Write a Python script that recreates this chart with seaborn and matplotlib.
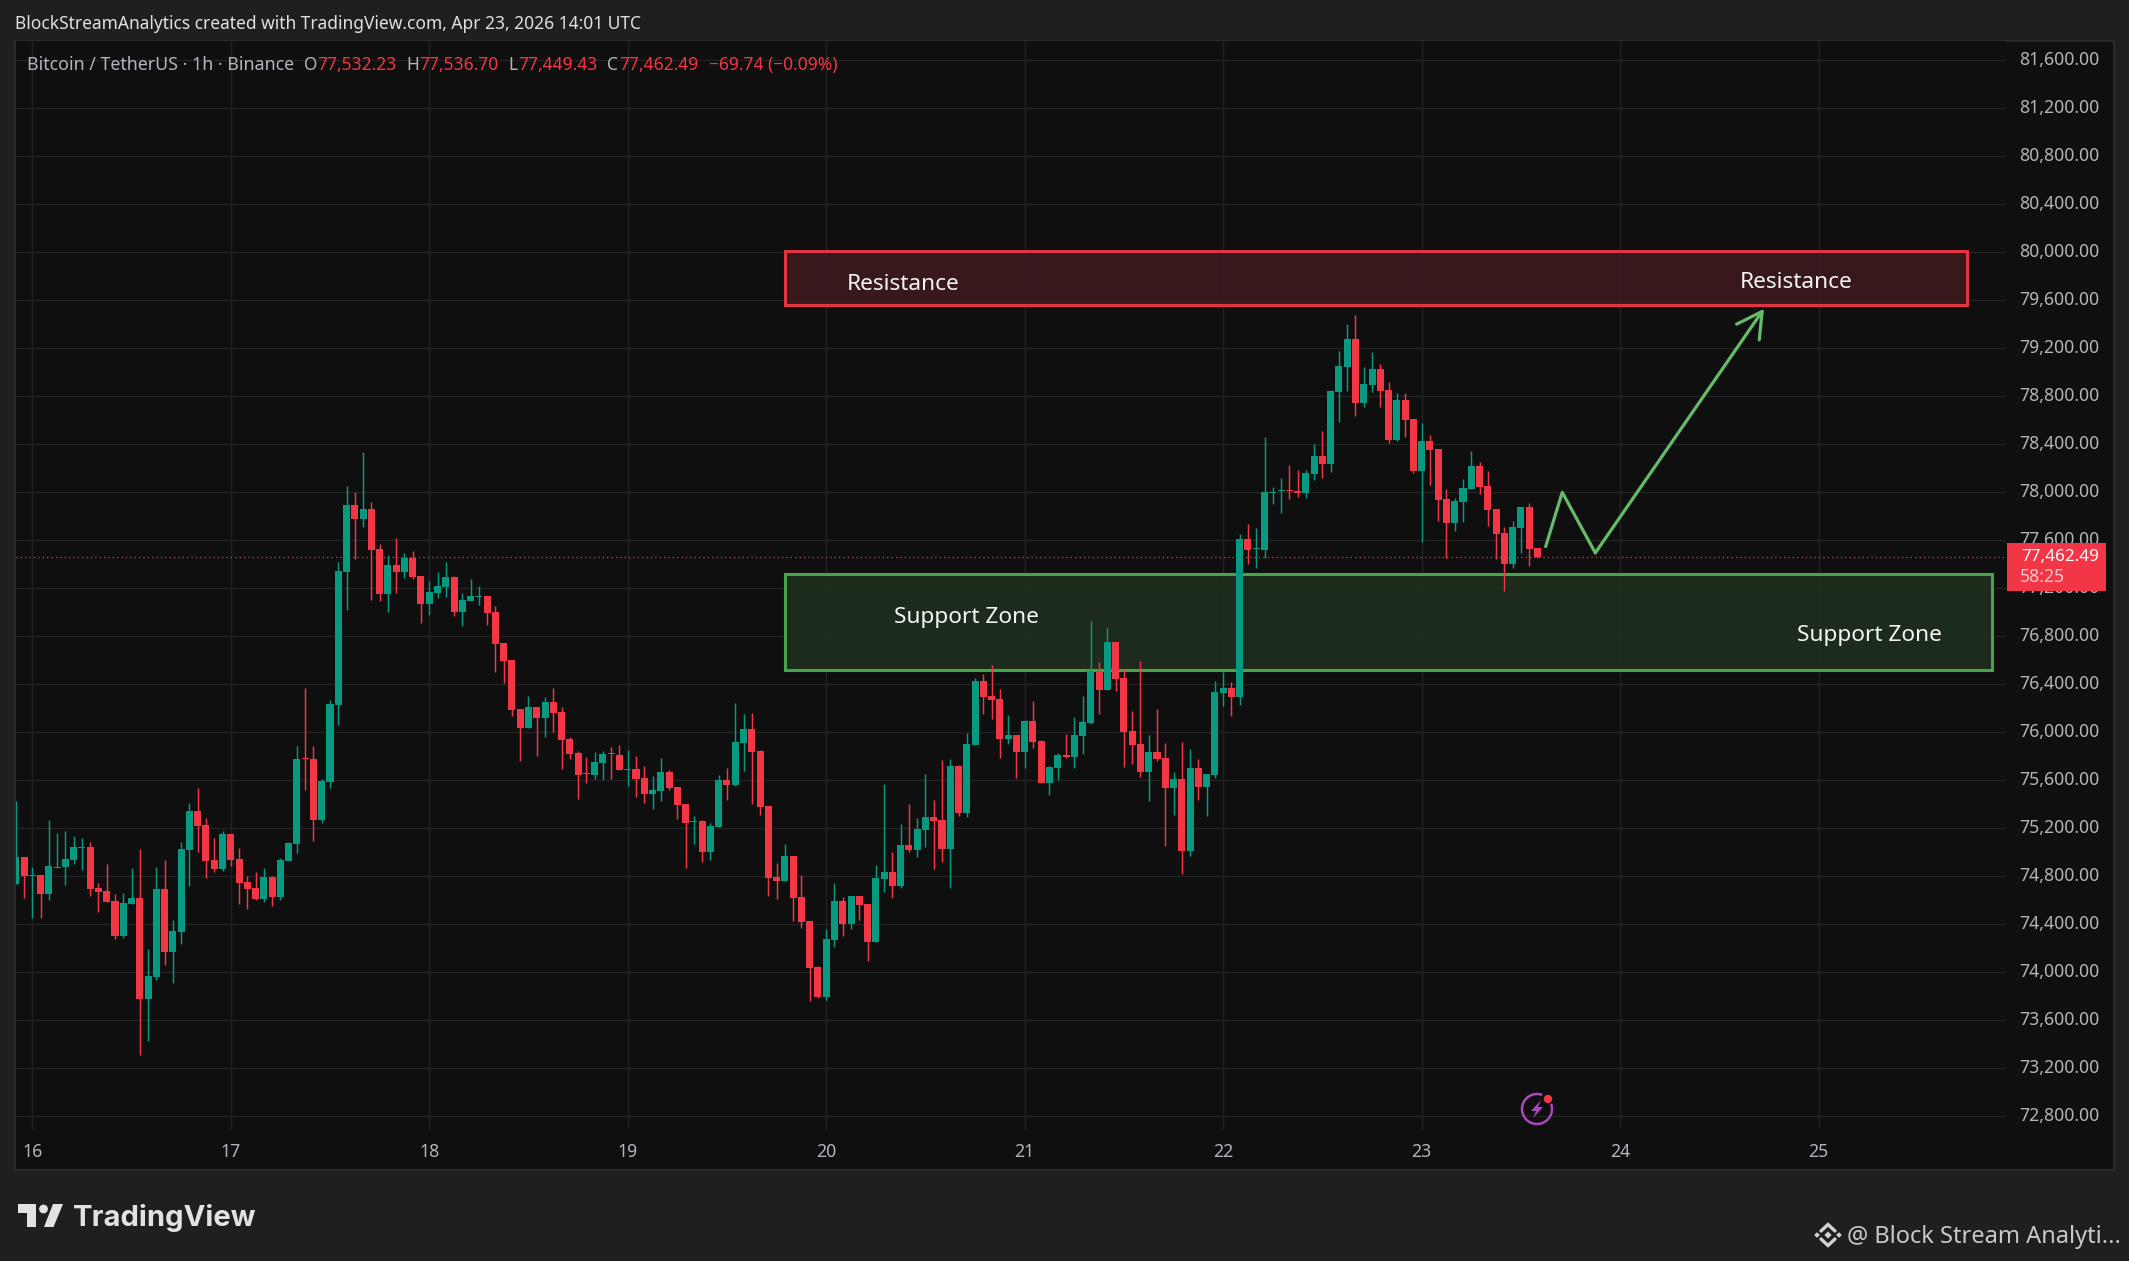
import numpy as np
import pandas as pd
import seaborn as sns
import matplotlib
matplotlib.use("Agg")
import matplotlib.pyplot as plt
from matplotlib.patches import Rectangle, Circle, Polygon, Arc

# ---- data: hourly candles, hour index counted from day 16 00:00 ----
first_hour = -2
opens = [
 74737,74961,74800,74811,74652,74872,74876,74937,75036,75043,74703,74679,74594,74301,74570,74618,73777,73961,74692,74169,74335,75019,75345,75226,74937,74859,
 75152,74944,74754,74703,74611,74794,74628,74927,75070,75780,75777,75271,75587,76226,77335,77893,77777,77859,77526,77152,77393,77336,77453,77303,
 77069,77161,77211,77294,77003,77094,77130,77136,77003,76744,76603,76194,76036,76211,76119,76253,76169,75944,75828,75653,75644,75744,75820,75811,
 75689,75694,75619,75486,75511,75669,75544,75403,75255,75261,75003,75211,75603,75561,75911,76028,75844,75386,74794,74761,74969,74628,74428,74044,
 73794,74269,74594,74402,74636,74569,74252,74777,74836,74719,75061,75019,75186,75294,75269,75027,75719,75327,75894,76427,76302,76277,75944,75977,
 75836,76094,75927,75577,75702,75811,75794,75969,76077,76511,76352,76752,76452,76011,75902,75669,75836,75786,75536,75611,75011,75702,75544,75644,
 76329,76370,76294,77611,77524,77520,77995,78012,78016,78010,77994,78154,78301,78235,78834,79044,79276,78743,78894,79029,78853,78436,78768,78612,
 78179,78427,78361,77944,77743,77919,78028,78220,78053,77862,77662,77401,77702,77878,77532.23]
highs = [
 75427,74961,74876,74811,75271,75162,75179,75135,75118,75087,74743,74903,74652,74662,74869,75026,74192,74876,74937,74437,75087,75410,75536,75284,75118,75179,
 75152,75036,74801,74835,74869,74801,74951,75087,75886,76369,75886,75611,76271,77420,78053,78002,78335,77920,77570,77478,77618,77494,77511,77303,
 77261,77336,77419,77303,77161,77278,77219,77136,77053,76744,76603,76194,76303,76211,76294,76369,76211,75961,75844,75794,75836,75844,75878,75894,
 75853,75803,75719,75636,75786,75686,75544,75403,75303,75269,75244,75644,75703,76244,76153,76161,75853,75386,74911,75069,74969,74811,74428,74053,
 74361,74744,74627,74636,74636,74569,74894,75569,75002,75236,75402,75286,75652,75436,75769,75777,75727,75994,76452,76486,76561,76361,76144,75977,
 76102,76261,75936,75719,75827,75986,76127,76302,76927,76586,76869,76752,76527,76177,76594,75977,76194,75911,75669,75919,75861,75777,75652,76427,
 76501,76420,77652,77737,77702,78461,78044,78119,78226,78185,78185,78401,78511,78853,79176,79402,79477,79044,79170,79069,78919,78828,78828,78612,
 78577,78477,78361,78028,77953,78110,78345,78251,78179,77862,77712,77762,77878,77912,77536.70]
lows = [
 74737,74618,74451,74451,74604,74869,74726,74903,74852,74635,74502,74587,74277,74284,74570,73311,73427,73937,74060,73910,74237,74720,75002,74784,74835,74845,
 74886,74570,74526,74604,74587,74553,74604,74927,74995,75519,75094,75243,75536,76060,77019,77444,77709,77104,77094,77002,77162,77286,77278,76911,
 76978,77119,77128,76969,76886,77094,77061,76894,76503,76411,76136,75761,76036,75803,75961,76003,75694,75778,75444,75578,75611,75603,75611,75686,
 75553,75461,75411,75361,75428,75519,75278,74869,75069,74919,74936,75211,75436,75553,75678,75403,75311,74636,74611,74761,74428,74369,73761,73786,
 73769,74211,74302,74361,74436,74094,74252,74669,74619,74702,75002,74961,75044,74861,74919,74702,75302,75294,75894,76152,76111,75786,75902,75619,
 75702,75869,75577,75477,75602,75786,75702,75819,76069,76152,76352,76344,75711,75736,75627,75427,75761,75052,75311,74819,74969,75436,75302,75619,
 76219,76134,76228,77401,77370,77455,77903,77828,77944,77959,77953,78104,78119,78170,78587,78844,78637,78712,78834,78712,78411,78427,78461,78160,
 77586,78060,77762,77451,77677,77752,78028,77984,77718,77445,77179,77370,77495,77386,77449.43]
closes = [
 74961,74801,74808,74652,74886,74879,74944,75043,75039,74692,74669,74587,74301,74577,74618,73777,73968,74692,74169,74345,75026,75345,75220,74927,74859,75152,
 74937,74743,74692,74611,74794,74628,74937,75077,75777,75777,75271,75594,76237,77345,77893,77777,77859,77519,77152,77393,77335,77453,77294,77069,
 77169,77219,77294,77003,77103,77136,77133,76994,76736,76594,76186,76036,76211,76119,76253,76161,75936,75819,75644,75650,75753,75819,75817,75686,
 75692,75611,75486,75519,75669,75536,75394,75244,75258,75003,75219,75603,75561,75919,76028,75836,75378,74786,74761,74969,74619,74419,74036,73794,
 74277,74594,74402,74636,74561,74252,74786,74836,74719,75061,75019,75194,75294,75261,75027,75719,75327,75902,76427,76294,76269,75944,75977,75836,
 76094,75919,75577,75711,75811,75794,75977,76086,76511,76352,76752,76444,76002,75894,75669,75836,75777,75536,75611,75011,75702,75544,75652,76336,
 76370,76294,77611,77520,77527,78003,78003,78016,78012,77994,78160,78301,78235,78844,79054,79276,78743,78903,79029,78844,78436,78768,78602,78179,
 78427,78351,77934,77743,77928,78035,78220,78044,77853,77652,77401,77712,77878,77527,77462.49]

price_ticks = [72800,73200,73600,74000,74400,74800,75200,75600,76000,76400,76800,77200,77600,78000,78400,78800,79200,79600,80000,80400,80800,81200,81600]
day_labels = ["16","17","18","19","20","21","22","23","24","25"]
day_hours = [0,24,48,72,96,120,144,168,192,216]

resistance_zone = (79560, 80011)
support_zone = (76523, 77322)
zone_span = (91.0, 234.0)
support_right = 237.0
path_hours = [183.0, 185.0, 189.0]
path_prices = [77548, 78000, 77495]
arrow_target = (209.4, 79530)

# ---- style ----
FIG_BG = "#1f1f1f"; PANE_BG = "#0f0f0f"; GRID = "#222222"; TXT = "#b2b5be"
UP = "#089981"; DOWN = "#f23645"; GREEN = "#4caf50"; PATH = "#66bb6a"
FONT = "Noto Sans"

sns.set_theme(style="dark", rc={"axes.facecolor": PANE_BG, "figure.facecolor": FIG_BG})
plt.rcParams["font.family"] = [FONT, "DejaVu Sans"]

W, H = 2129, 1261
fig = plt.figure(figsize=(W/100, H/100), dpi=100, facecolor=FIG_BG)

under = fig.add_axes([0, 0, 1, 1], zorder=-1)
under.set_xlim(0, W); under.set_ylim(H, 0); under.axis("off")
under.add_patch(Rectangle((15, 41), 2099, 1129, fc=PANE_BG, ec="#2c2f2c", lw=1.2))

L, R, T, B = 16, 2006, 41, 1129
ax = fig.add_axes([L/W, 1-B/H, (R-L)/W, (B-T)/H], zorder=1)
ax.set_facecolor(PANE_BG)
ax.set_xlim(-1.97, 238.66); ax.set_ylim(72694, 81761)
for s in ax.spines.values():
    s.set_visible(False)

df = pd.DataFrame({"open": opens, "high": highs, "low": lows, "close": closes})
df["hour"] = np.arange(len(df)) + first_hour
df["up"] = df["close"] >= df["open"]
df["color"] = np.where(df["up"], UP, DOWN)
df["base"] = df[["open", "close"]].min(axis=1)
df["height"] = (df["open"] - df["close"]).abs().clip(lower=9)

ax.set_yticks(price_ticks)
ax.set_xticks(day_hours)
ax.grid(True, color=GRID, lw=1.0, zorder=0)
ax.set_axisbelow(True)
ax.yaxis.tick_right()
ax.set_yticklabels([f"{v:,.2f}" for v in price_ticks], color=TXT, fontsize=12.7, ha="right", va="center")
ax.set_xticklabels(day_labels, color=TXT, fontsize=12.7)
ax.tick_params(axis="y", length=0, pad=67)
ax.tick_params(axis="x", length=0, pad=10)

# zones
for (lo, hi), right, fc, ec, z in [(resistance_zone, zone_span[1], "#3d191e", DOWN, 2),
                                   (support_zone, support_right, "#1e2e1e", GREEN, 2)]:
    ax.add_patch(Rectangle((zone_span[0], lo), right-zone_span[0], hi-lo, fc=fc, ec=ec, lw=2.2, alpha=0.93, zorder=z))

# last price line
ax.axhline(closes[-1], color=DOWN, lw=0.9, ls=(0, (1, 2.5)), zorder=2.5)

# candles
ax.vlines(df["hour"], df["low"], df["high"], colors=df["color"], lw=1.05, zorder=3)
ax.bar(df["hour"], df["height"], bottom=df["base"], width=0.85, color=df["color"], linewidth=0, zorder=4)

# projected path
path = pd.DataFrame({"hour": path_hours, "price": path_prices})
sns.lineplot(data=path, x="hour", y="price", sort=False, estimator=None, color=PATH, lw=2.3, ax=ax, zorder=5)
ax.annotate("", xy=arrow_target, xytext=(path_hours[-1], path_prices[-1]),
            arrowprops=dict(arrowstyle="->,head_length=1.0,head_width=0.55", color=PATH, lw=2.3,
                            shrinkA=0, shrinkB=0, mutation_scale=18), zorder=5)
ax.set_xlabel(""); ax.set_ylabel("")

# zone captions
for xv, yv, s in [(105.3, 79730, "Resistance"), (213.3, 79750, "Resistance"),
                  (113.0, 76960, "Support Zone"), (222.1, 76805, "Support Zone")]:
    ax.text(xv, yv, s, color="#f5f5f5", fontsize=16.3, fontweight="medium", ha="center", va="center", zorder=6)

# ---- overlay chrome in pixel coordinates ----
ov = fig.add_axes([0, 0, 1, 1], zorder=5)
ov.set_xlim(0, W); ov.set_ylim(H, 0); ov.axis("off"); ov.patch.set_alpha(0)

ov.text(15, 24, "BlockStreamAnalytics created with TradingView.com, Apr 23, 2026 14:01 UTC",
        color="#e0e0e0", fontsize=12.5, fontweight="medium", va="center", ha="left")
ov.text(27, 65, "Bitcoin / TetherUS · 1h · Binance", color=TXT, fontsize=12.8, va="center")
for x, s, c in [(304, "O", TXT), (317, "77,532.23", DOWN), (406, "H", TXT), (419, "77,536.70", DOWN),
                (508, "L", TXT), (518, "77,449.43", DOWN), (607, "C", TXT), (619, "77,462.49", DOWN),
                (709, "−69.74 (−0.09%)", DOWN)]:
    ov.text(x, 65, s, color=c, fontsize=12.5, va="center")

# price tag
ov.add_patch(Rectangle((2007, 543), 99, 48, fc=DOWN, ec="none"))
ov.text(2099, 557, f"{closes[-1]:,.2f}", color="white", fontsize=12.3, fontweight="bold", ha="right", va="center")
ov.text(2020, 577, "58:25", color="#f5c9cd", fontsize=12.7, ha="left", va="center")

# icon
ov.add_patch(Arc((1537, 1109), 30, 30, theta1=-20, theta2=290, ec="#ab47bc", lw=1.8))
ov.add_patch(Polygon([(1541, 1100), (1531, 1111), (1536, 1111), (1533, 1118), (1543, 1107), (1538, 1107)], fc="#ab47bc", ec="none"))
ov.add_patch(Circle((1548, 1099), 4.2, fc=DOWN, ec="none"))

# TradingView logo
LOGO = "#e2e2e2"
ov.add_patch(Polygon([(18, 1204), (36, 1204), (36, 1227), (27, 1227), (27, 1213), (18, 1213)], fc=LOGO, ec="none"))
ov.add_patch(Circle((43.5, 1209), 4.4, fc=LOGO, ec="none"))
ov.add_patch(Polygon([(53, 1204), (63, 1204), (53.5, 1227), (44, 1227)], fc=LOGO, ec="none"))
ov.text(73, 1218, "TradingView", color=LOGO, fontsize=21, family="Inter", fontweight="bold", va="center", ha="left")

# watermark
BIN = "#d4d4d4"
ov.plot([1821, 1828, 1835], [1231, 1224.5, 1231], color=BIN, lw=2.4, solid_joinstyle="miter")
ov.plot([1821, 1828, 1835], [1239, 1245.5, 1239], color=BIN, lw=2.4, solid_joinstyle="miter")
for cx, cy, s in [(1817, 1235, 2.8), (1839, 1235, 2.8), (1828, 1235, 3.6)]:
    ov.add_patch(Polygon([(cx-s, cy), (cx, cy-s), (cx+s, cy), (cx, cy+s)], fc=BIN, ec="none"))
ov.set_xlim(0, W); ov.set_ylim(H, 0)
ov.text(1847, 1237, "@ Block Stream Analyti...", color="#c8c8c8", fontsize=17, va="center", ha="left")

fig.savefig("out.png", dpi=100, facecolor=FIG_BG)
